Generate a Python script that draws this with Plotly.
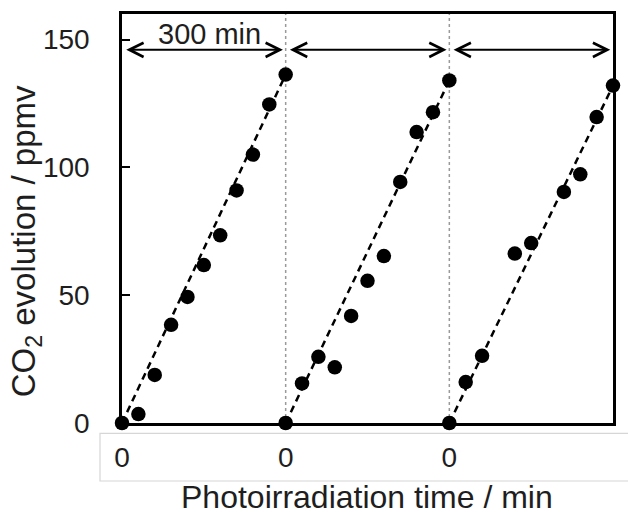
import plotly.graph_objects as go

# ---- data ----
cycle_starts = [0, 300, 600]
cycle_length = 300
c1_time = [0, 30, 60, 90, 120, 150, 180, 210, 240, 270, 300]
c1_co2 = [0, 3.5, 18.8, 38.4, 49.3, 61.8, 73.4, 91.0, 105.0, 124.6, 136.3]
c2_time = [0, 30, 60, 90, 120, 150, 180, 210, 240, 270, 300]
c2_co2 = [0, 15.5, 25.9, 21.8, 41.9, 55.6, 65.3, 94.3, 113.8, 121.6, 134.0]
c3_time = [0, 30, 60, 120, 150, 210, 240, 270, 300]
c3_co2 = [0, 16.0, 26.3, 66.3, 70.4, 90.4, 97.3, 119.7, 132.0]
fit_end = [136.3, 134.0, 132.0]
tick_vals = [0, 300, 600]
tick_text = ["0", "0", "0"]
y_ticks = [0, 50, 100, 150]
arrow_level = 146
arrow_inset = 5
arrow_label = "300 min"

FONT = "Liberation Sans, Arial, sans-serif"
TXT = "#1e1e1e"

fig = go.Figure()

cycles = [(c1_time, c1_co2), (c2_time, c2_co2), (c3_time, c3_co2)]
for i, (t, v) in enumerate(cycles):
    s = cycle_starts[i]
    # dashed linear trend
    fig.add_trace(go.Scatter(
        x=[s, s + cycle_length], y=[0, fit_end[i]], mode="lines",
        line=dict(color="black", width=2.5, dash="7px,5px"),
        hoverinfo="skip", showlegend=False, cliponaxis=False))
    fig.add_trace(go.Scatter(
        x=[s + tt for tt in t], y=v, mode="markers",
        marker=dict(color="black", size=14.5),
        showlegend=False, cliponaxis=False))

# cycle boundaries
for s in cycle_starts[1:]:
    fig.add_vline(x=s, line=dict(color="#9a9a9a", width=1.5, dash="dot"), layer="below")

# double-headed arrows for each cycle
for s in cycle_starts:
    fig.add_annotation(
        x=s + cycle_length - arrow_inset, y=arrow_level,
        ax=s + arrow_inset, ay=arrow_level,
        xref="x", yref="y", axref="x", ayref="y",
        text="", showarrow=True, arrowside="end+start",
        arrowhead=5, startarrowhead=5, arrowsize=1.4, startarrowsize=1.4,
        arrowwidth=2, arrowcolor="black", standoff=0, startstandoff=0)

fig.add_annotation(x=160, y=152, xref="x", yref="y", text=arrow_label,
                   showarrow=False, font=dict(family=FONT, size=29, color=TXT),
                   xanchor="center", yanchor="middle")

# tick-label box below the axis
fig.add_shape(type="rect", xref="paper", yref="paper",
              x0=-0.0448, x1=1.06, y0=-0.1418, y1=-0.0252,
              line=dict(color="#d6d6d6", width=1.2), fillcolor="rgba(0,0,0,0)")

# axis titles
fig.add_annotation(xref="paper", yref="paper", x=-0.195, y=0.445,
                   text="CO<sub>2</sub> evolution / ppmv", textangle=-90,
                   showarrow=False, xanchor="center", yanchor="middle",
                   font=dict(family=FONT, size=33, color=TXT))
fig.add_annotation(xref="paper", yref="paper", x=0.498, y=-0.181,
                   text="Photoirradiation time / min",
                   showarrow=False, xanchor="center", yanchor="middle",
                   font=dict(family=FONT, size=32, color=TXT))

fig.update_layout(
    width=628, height=514,
    margin=dict(l=122, r=15, t=14, b=91),
    paper_bgcolor="white", plot_bgcolor="white",
    font=dict(family=FONT, color=TXT),
    showlegend=False,
)
fig.update_xaxes(
    range=[0, cycle_length * len(cycle_starts)],
    tickvals=tick_vals, ticktext=tick_text, ticks="",
    tickfont=dict(size=28, family=FONT, color=TXT),
    ticklabelstandoff=8,
    showline=True, mirror=True, linecolor="black", linewidth=2.5,
    showgrid=False, zeroline=False)
fig.update_yaxes(
    range=[0, 160], tickvals=y_ticks,
    ticks="inside", ticklen=8, tickwidth=2, tickcolor="black",
    tickfont=dict(size=28, family=FONT, color=TXT),
    ticklabelstandoff=24,
    showline=True, mirror=True, linecolor="black", linewidth=2.5,
    showgrid=False, zeroline=False)

fig.write_html("out.html")
